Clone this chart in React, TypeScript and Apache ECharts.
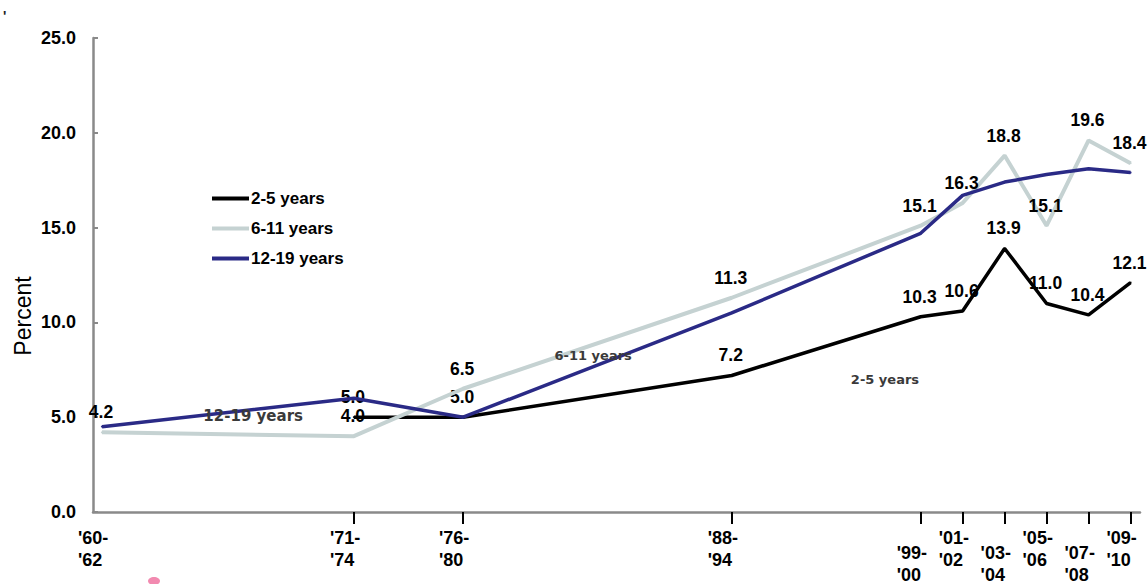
import React, { useEffect, useRef } from 'react';
import * as echarts from 'echarts';

// ---- data ----
const periodLabels = ["'60-|'62", "'71-|'74", "'76-|'80", "'88-|'94", "'99-|'00", "'01-|'02", "'03-|'04", "'05-|'06", "'07-|'08", "'09-|'10"];
// position of each survey period on the time axis
const periodYears = [1961, 1973, 1978.2, 1991, 2000, 2002, 2004, 2006, 2008, 2010];
// periods whose tick label sits one half-row lower
const loweredPeriods = [2000, 2004, 2008];
const ages2to5 = [null, 5.0, 5.0, 7.2, 10.3, 10.6, 13.9, 11.0, 10.4, 12.1];
const ages6to11 = [4.2, 4.0, 6.5, 11.3, 15.1, 16.3, 18.8, 15.1, 19.6, 18.4];
const ages12to19 = [4.5, 6.0, 5.0, 10.5, 14.7, 16.7, 17.4, 17.8, 18.1, 17.9];
const seriesNames = ['2-5 years', '6-11 years', '12-19 years'];
const yTickValues = [0, 5, 10, 15, 20, 25];
// in-chart series annotations: [year, percent]
const annotation12to19 = [1968.2, 5.05];
const annotation6to11 = [1984.4, 8.28];
const annotation2to5 = [1998.3, 6.97];

const X_MIN = 1960.57;
const X_MAX = 2010.45;
const FONT = "'Liberation Sans', Arial, sans-serif";

const toPairs = (vals: (number | null)[]) =>
  vals.map((v, i) => (v === null ? null : [periodYears[i], v])).filter((p) => p !== null);

const labelFor = (val: number) => {
  let best = 0;
  for (let i = 0; i < periodYears.length; i++) {
    if (Math.abs(periodYears[i] - val) < Math.abs(periodYears[best] - val)) best = i;
  }
  const [a, b] = periodLabels[best].split('|');
  return `{t|${a}}\n{t|${b}}`;
};

const xLabelRich = {
  t: { width: 36, align: 'left', fontFamily: FONT, fontWeight: 'bold', fontSize: 18, color: '#000', lineHeight: 22 },
};

export default function App() {
  const ref = useRef<HTMLDivElement>(null);
  useEffect(() => {
    document.body.style.margin = '0';
    const chart = echarts.init(ref.current!, undefined, { renderer: 'svg' });
    const annotationLabel = (size: number) => ({
      show: true,
      position: 'inside',
      formatter: (p: any) => p.name,
      fontFamily: "'DejaVu Sans', Verdana, sans-serif",
      fontWeight: 'bold',
      fontSize: size,
      color: '#3a3a3a',
    });
    const valueLabel = {
      show: true,
      position: 'top',
      distance: 10,
      offset: [-1, 0],
      formatter: (p: any) => Number(p.value[1]).toFixed(1),
      fontFamily: FONT,
      fontWeight: 'bold',
      fontSize: 17.5,
      color: '#000',
    };
    const option: any = {
      animation: false,
      backgroundColor: '#ffffff',
      textStyle: { fontFamily: FONT },
      grid: { left: 93, right: 8, top: 38, bottom: 72, containLabel: false },
      legend: {
        orient: 'vertical',
        left: 212,
        top: 190,
        padding: 0,
        icon: 'rect',
        itemWidth: 37,
        itemHeight: 4,
        itemGap: 13,
        data: seriesNames,
        textStyle: { fontFamily: FONT, fontWeight: 'bold', fontSize: 17, color: '#000', lineHeight: 16, padding: [0, 0, 0, -3] },
      },
      xAxis: [
        {
          type: 'value',
          min: X_MIN,
          max: X_MAX,
          position: 'bottom',
          axisLine: { show: true, lineStyle: { color: '#8a8a8a', width: 2.5 } },
          axisTick: {
            show: true,
            customValues: periodYears.slice(1),
            length: 12,
            lineStyle: { color: '#000', width: 2 },
          },
          axisLabel: {
            customValues: periodYears.filter((y) => !loweredPeriods.includes(y)),
            formatter: (v: number) => labelFor(v),
            rich: xLabelRich,
            margin: 15,
            padding: [0, 12, 0, 0],
          },
          splitLine: { show: false },
        },
        {
          type: 'value',
          min: X_MIN,
          max: X_MAX,
          position: 'bottom',
          axisLine: { show: false },
          axisTick: { show: false },
          axisLabel: {
            customValues: loweredPeriods,
            formatter: (v: number) => labelFor(v),
            rich: xLabelRich,
            margin: 30,
            padding: [0, 12, 0, 0],
          },
          splitLine: { show: false },
        },
      ],
      yAxis: {
        type: 'value',
        min: 0,
        max: 25,
        interval: 5,
        axisLine: { show: true, lineStyle: { color: '#8a8a8a', width: 2.5 } },
        axisTick: { show: true, inside: true, length: 5, customValues: yTickValues, lineStyle: { color: '#8a8a8a', width: 2 } },
        axisLabel: {
          formatter: (v: number) => v.toFixed(1),
          fontFamily: FONT,
          fontWeight: 'bold',
          fontSize: 18,
          color: '#000',
          margin: 17,
        },
        splitLine: { show: false },
      },
      series: [
        {
          name: seriesNames[0],
          type: 'line',
          xAxisIndex: 0,
          data: toPairs(ages2to5),
          color: '#000000',
          symbol: 'circle',
          symbolSize: 2,
          lineStyle: { color: '#000000', width: 3.5 },
          label: valueLabel,
          z: 2,
          markPoint: {
            symbol: 'circle',
            symbolSize: 1,
            itemStyle: { color: 'rgba(0,0,0,0)' },
            data: [{ name: seriesNames[0], coord: annotation2to5, label: annotationLabel(13) }],
          },
        },
        {
          name: seriesNames[1],
          type: 'line',
          xAxisIndex: 0,
          data: toPairs(ages6to11),
          color: '#c5d2d2',
          symbol: 'circle',
          symbolSize: 2,
          lineStyle: { color: '#c5d2d2', width: 4 },
          label: valueLabel,
          z: 3,
          markPoint: {
            symbol: 'circle',
            symbolSize: 1,
            itemStyle: { color: 'rgba(0,0,0,0)' },
            data: [{ name: seriesNames[1], coord: annotation6to11, label: annotationLabel(13) }],
          },
        },
        {
          name: seriesNames[2],
          type: 'line',
          xAxisIndex: 0,
          data: toPairs(ages12to19),
          color: '#2a2a86',
          symbol: 'circle',
          symbolSize: 2,
          lineStyle: { color: '#2a2a86', width: 3.5 },
          label: { show: false },
          z: 4,
          markPoint: {
            symbol: 'circle',
            symbolSize: 1,
            itemStyle: { color: 'rgba(0,0,0,0)' },
            data: [{ name: seriesNames[2], coord: annotation12to19, label: annotationLabel(15) }],
          },
        },
      ],
      graphic: [
        {
          type: 'text',
          x: 23,
          y: 316,
          rotation: Math.PI / 2,
          style: { text: 'Percent', font: `23px ${FONT}`, fill: '#000', align: 'center', verticalAlign: 'middle' },
        },
        {
          type: 'text',
          x: 3,
          y: 9,
          style: { text: "'", font: `bold 14px ${FONT}`, fill: '#222' },
        },
        {
          type: 'ellipse',
          shape: { cx: 154, cy: 581, rx: 6, ry: 4 },
          style: { fill: '#f28ab0' },
        },
      ],
    };
    chart.setOption(option);
    return () => chart.dispose();
  }, []);
  return <div ref={ref} style={{ width: 1148, height: 584 }} />;
}
